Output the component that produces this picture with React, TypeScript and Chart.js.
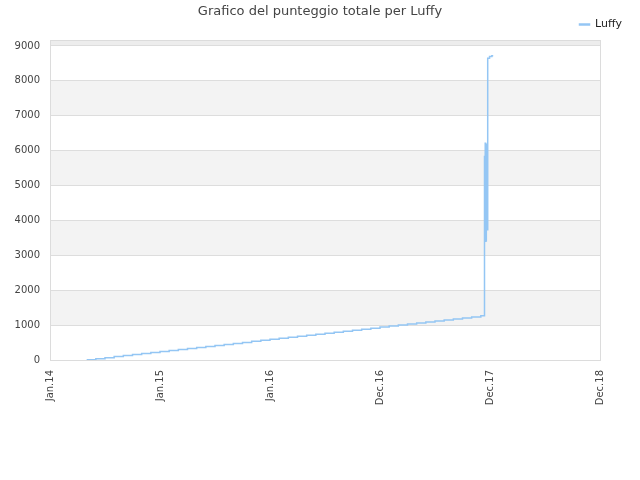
import { useEffect, useRef } from 'react'
import { Chart, registerables } from 'chart.js'

Chart.register(...registerables)

const TITLE = 'Grafico del punteggio totale per Luffy'
const SERIES_NAME = 'Luffy'
const FONT = "'DejaVu Sans', sans-serif"
const LINE_COLOR = '#94c6f4'

// one tick per 12 months, starting Jan 2014
const X_LABELS = ['Jan.14', 'Jan.15', 'Jan.16', 'Dec.16', 'Dec.17', 'Dec.18']
const Y_TICKS = [0, 1000, 2000, 3000, 4000, 5000, 6000, 7000, 8000, 9000]

// months since Jan 2014
const MONTHS = [
  4, 5, 6, 7, 8, 9, 10, 11, 12, 13, 14, 15, 16, 17, 18, 19, 20, 21, 22, 23,
  24, 25, 26, 27, 28, 29, 30, 31, 32, 33, 34, 35, 36, 37, 38, 39, 40, 41, 42, 43,
  44, 45, 46, 47, 47.4, 47.48, 47.52, 47.55, 47.58, 47.6, 47.65, 47.7, 47.75, 47.95,
  48.2, 48.35,
]

const SCORES = [
  10, 38, 68, 97, 127, 155, 185, 213, 243, 272, 301, 330, 360, 388, 418, 447, 476, 505, 535, 563,
  593, 622, 651, 680, 710, 738, 767, 797, 826, 855, 884, 913, 943, 972, 1001, 1030, 1059, 1088, 1117, 1147,
  1176, 1205, 1234, 1268, 5830, 6210, 3400, 5880, 3420, 6180, 4830, 3730, 8650, 8700,
  8720, 8720,
]

const Y_MAX = 9170

const bandsPlugin = {
  id: 'bands',
  beforeDraw(chart: Chart) {
    const { ctx, chartArea } = chart
    const y = chart.scales.y
    ctx.save()
    Y_TICKS.forEach((v, i) => {
      if (i % 2 === 0) return
      const next = i + 1 < Y_TICKS.length ? Y_TICKS[i + 1] : Y_MAX
      const top = y.getPixelForValue(next)
      const bottom = y.getPixelForValue(v)
      ctx.fillStyle = i + 1 < Y_TICKS.length ? '#f3f3f3' : '#ededed'
      ctx.fillRect(chartArea.left, top, chartArea.right - chartArea.left, bottom - top)
    })
    ctx.restore()
  },
  beforeDatasetsDraw(chart: Chart) {
    const { ctx, chartArea } = chart
    ctx.save()
    ctx.strokeStyle = '#dcdcdc'
    ctx.lineWidth = 1
    ctx.strokeRect(chartArea.left + 0.5, chartArea.top + 0.5, chartArea.right - chartArea.left, chartArea.bottom - chartArea.top)
    ctx.restore()
  },
  afterDraw(chart: Chart) {
    const { ctx } = chart
    ctx.save()
    ctx.font = `13px ${FONT}`
    ctx.fillStyle = '#444'
    ctx.textAlign = 'center'
    ctx.textBaseline = 'middle'
    ctx.fillText(TITLE, chart.width / 2, 12)
    ctx.restore()
  },
}

export default function App() {
  const canvasRef = useRef<HTMLCanvasElement>(null)

  useEffect(() => {
    document.body.style.margin = '0'
    if (!canvasRef.current) return
    const chart = new Chart(canvasRef.current, {
      type: 'line',
      data: {
        datasets: [{
          label: SERIES_NAME,
          data: MONTHS.map((m, i) => ({ x: m, y: SCORES[i] })),
          borderColor: LINE_COLOR,
          backgroundColor: LINE_COLOR,
          borderWidth: 1.5,
          pointRadius: 0,
          stepped: true,
          fill: false,
        }],
      },
      options: {
        responsive: false,
        animation: false,
        layout: { padding: { top: 0, right: 8, left: 0, bottom: 0 } },
        plugins: {
          title: { display: false },
          tooltip: { enabled: false },
          legend: {
            position: 'top',
            align: 'end',
            labels: {
              boxWidth: 10, boxHeight: 1, padding: 10,
              color: '#222',
              font: { family: FONT, size: 11 },
            },
          },
        },
        scales: {
          x: {
            type: 'linear',
            min: 0, max: 60,
            grid: { display: false, drawTicks: false },
            border: { display: false },
            ticks: {
              stepSize: 12, includeBounds: false, autoSkip: false,
              minRotation: 90, maxRotation: 90, padding: 10,
              color: '#444', font: { family: FONT, size: 10 },
              callback: v => X_LABELS[Number(v) / 12] ?? '',
            },
            afterFit: s => { s.height = 120; s.paddingRight = 40 },
          },
          y: {
            min: 0, max: Y_MAX,
            grid: { color: '#dddddd', drawTicks: false },
            border: { display: false },
            ticks: {
              padding: 10,
              color: '#444', font: { family: FONT, size: 10 },
              callback: v => String(v),
            },
            afterBuildTicks: s => { s.ticks = Y_TICKS.map(value => ({ value })) },
            afterFit: s => { s.width = 50; s.paddingTop = 40 },
          },
        },
      },
      plugins: [bandsPlugin],
    })
    return () => chart.destroy()
  }, [])

  return (
    <div style={{ width: 640, height: 480 }}>
      <canvas ref={canvasRef} width={640} height={480} />
    </div>
  )
}
